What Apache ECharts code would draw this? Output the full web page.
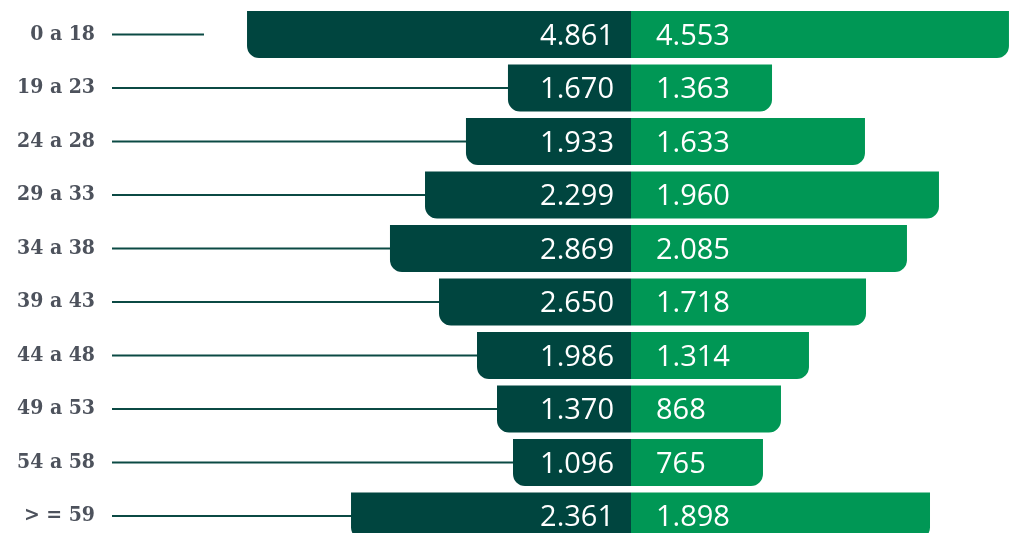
<!DOCTYPE html>
<html>
<head>
<meta charset="utf-8">
<script src="https://cdn.jsdelivr.net/npm/echarts@6/dist/echarts.min.js"></script>
<style>
  html, body { margin: 0; padding: 0; background: #fff; }
  #chart { width: 1010px; height: 533px; }
</style>
</head>
<body>
<div id="chart"></div>
<script>
// age groups, top to bottom
const ages = ['0 a 18', '19 a 23', '24 a 28', '29 a 33', '34 a 38', '39 a 43', '44 a 48', '49 a 53', '54 a 58', '> = 59'];
// printed values
const leftValues = [4861, 1670, 1933, 2299, 2869, 2650, 1986, 1370, 1096, 2361];
const rightValues = [4553, 1363, 1633, 1960, 2085, 1718, 1314, 868, 765, 1898];
// drawn bar lengths (the picture's bars are not proportional to the printed numbers)
const leftBars = [4800, 1538, 2063, 2575, 3013, 2400, 1925, 1675, 1475, 3500];
const rightBars = [4725, 1763, 2925, 3850, 3450, 2938, 2225, 1875, 1650, 3738];
// leader lines: empty part next to the centre, then the visible line out to the labels
const leaderGap = [5338, 0, 0, 0, 0, 0, 0, 0, 0, 0];
const axisMin = -6488;
const axisMax = 4738;

const fmt = v => v >= 1000 ? Math.floor(v / 1000) + '.' + String(v % 1000).padStart(3, '0') : String(v);

const chart = echarts.init(document.getElementById('chart'));

const valueLabel = {
  show: true,
  color: '#fff',
  fontFamily: 'Open Sans',
  fontSize: 29,
  offset: [0, 2]
};

chart.setOption({
  animation: false,
  grid: { left: 112, width: 898, top: 7.75, height: 535, outerBoundsMode: 'none', containLabel: false },
  xAxis: { type: 'value', min: axisMin, max: axisMax, show: false },
  yAxis: [
    {
      type: 'category',
      data: ages,
      inverse: true,
      axisLine: { show: false },
      axisTick: { show: false },
      axisLabel: {
        margin: 17,
        padding: [6, 0, 0, 0],
        color: '#4d525c',
        fontFamily: 'DejaVu Serif Condensed',
        fontWeight: 'bold',
        fontSize: 21
      }
    },
    { type: 'category', data: ages, inverse: true, show: false }
  ],
  series: [
    {
      type: 'bar',
      yAxisIndex: 1,
      stack: 'lead',
      barWidth: 2,
      silent: true,
      itemStyle: { color: 'transparent' },
      data: leaderGap.map(v => -v),
      z: 1
    },
    {
      type: 'bar',
      yAxisIndex: 1,
      stack: 'lead',
      barWidth: 2,
      silent: true,
      itemStyle: { color: '#0b4a44' },
      data: leaderGap.map(v => axisMin + v),
      z: 1
    },
    {
      type: 'bar',
      barWidth: 47,
      barGap: '-100%',
      itemStyle: { color: '#00453f', borderRadius: [0, 0, 0, 12] },
      label: Object.assign({}, valueLabel, {
        position: 'insideRight',
        distance: 17,
        formatter: p => fmt(leftValues[p.dataIndex])
      }),
      data: leftBars.map(v => -v),
      z: 3
    },
    {
      type: 'bar',
      barWidth: 47,
      barGap: '-100%',
      itemStyle: { color: '#009755', borderRadius: [0, 0, 12, 0] },
      label: Object.assign({}, valueLabel, {
        position: 'insideLeft',
        distance: 25,
        formatter: p => fmt(rightValues[p.dataIndex])
      }),
      data: rightBars,
      z: 3
    }
  ]
});
</script>
</body>
</html>
